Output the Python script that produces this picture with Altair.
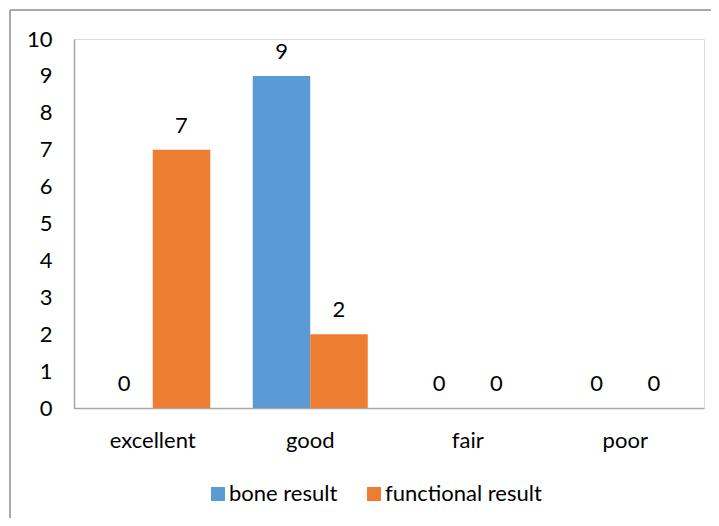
import altair as alt
import pandas as pd

categories = ["excellent", "good", "fair", "poor"]
series_names = ["bone result", "functional result"]
bone_result = [0, 9, 0, 0]
functional_result = [7, 2, 0, 0]
y_ticks = list(range(0, 11))
colors = ["#5B9BD5", "#ED7D31"]

rows = []
for c, b, f in zip(categories, bone_result, functional_result):
    rows.append({"category": c, "series": series_names[0], "value": b})
    rows.append({"category": c, "series": series_names[1], "value": f})
df = pd.DataFrame(rows)

FONT = "Lato"

x_enc = alt.X("category:N", sort=categories, title=None,
              scale=alt.Scale(paddingInner=0.27, paddingOuter=0.135),
              axis=alt.Axis(labelAngle=0, tickSize=0, labelPadding=22,
                            labelFontSize=22, labelFont=FONT, labelColor="#000000",
                            domainColor="#A6A6A6", domainWidth=1.5))
y_enc = alt.Y("value:Q", title=None,
              scale=alt.Scale(domain=[0, 10], nice=False),
              axis=alt.Axis(values=y_ticks, grid=False, tickSize=0, labelPadding=22,
                            labelFontSize=22, labelFont=FONT, labelColor="#000000",
                            domainColor="#A6A6A6", domainWidth=1.5))
xoff = alt.XOffset("series:N", sort=series_names)
color_enc = alt.Color("series:N", sort=series_names,
                      scale=alt.Scale(domain=series_names, range=colors),
                      legend=alt.Legend(title=None, orient="none", direction="horizontal",
                                        legendX=133, legendY=444,
                                        symbolType="square", symbolSize=196,
                                        symbolStrokeWidth=0, labelFontSize=22,
                                        labelFont=FONT, labelColor="#000000",
                                        labelOffset=0, columnPadding=25))

base = alt.Chart(df)
bars = base.mark_bar().encode(x=x_enc, y=y_enc, xOffset=xoff, color=color_enc)
labels = base.mark_text(baseline="alphabetic", dy=-17, fontSize=22, font=FONT,
                        color="#000000").encode(
    x=x_enc, y=y_enc, xOffset=xoff, text=alt.Text("value:Q"))

frame = alt.Chart(pd.DataFrame({"b": [0]}))
left_line = frame.mark_rule(stroke="#8C8C8C", strokeWidth=1.5).encode(
    x=alt.value(-64), y=alt.value(-29), y2=alt.value(600))
top_line = frame.mark_rule(stroke="#8C8C8C", strokeWidth=1.5).encode(
    y=alt.value(-29), x=alt.value(-64), x2=alt.value(800))

chart = alt.layer(left_line, top_line, bars, labels).properties(
    width=630, height=369,
    autosize=alt.AutoSizeParams(type="none"),
    padding={"left": 66, "top": 31, "right": 7, "bottom": 110},
).configure_view(strokeWidth=0, stroke="transparent").configure(font=FONT)

chart.save("out.html", embed_options={"renderer": "svg", "actions": False})
